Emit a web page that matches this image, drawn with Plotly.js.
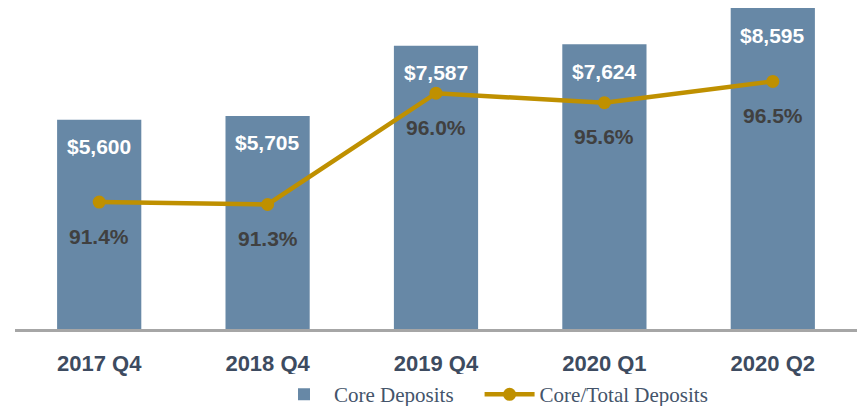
<!DOCTYPE html>
<html><head><meta charset="utf-8">
<script src="https://cdn.plot.ly/plotly-3.0.1.min.js"></script>
<style>html,body{margin:0;padding:0;background:#fff;}#chart{width:857px;height:406px;}</style>
</head><body><div id="chart"></div>
<script>
const categories = ["2017 Q4", "2018 Q4", "2019 Q4", "2020 Q1", "2020 Q2"];
const coreDeposits = [5600, 5705, 7587, 7624, 8595];
const coreRatio = [91.4, 91.3, 96.0, 95.6, 96.5];
const barLabels = ["$5,600", "$5,705", "$7,587", "$7,624", "$8,595"];
const ratioLabels = ["91.4%", "91.3%", "96.0%", "95.6%", "96.5%"];

const barColor = "#6788A6";
const lineColor = "#BF9000";

const traces = [
  {type: "bar", x: categories, y: coreDeposits, name: "Core Deposits&nbsp;&nbsp;&nbsp;&nbsp;",
   marker: {color: barColor}, hoverinfo: "skip"},
  {type: "scatter", mode: "lines+markers", x: categories, y: coreRatio, yaxis: "y2",
   name: "Core/Total Deposits", line: {color: lineColor, width: 4.5},
   marker: {color: lineColor, size: 13}, hoverinfo: "skip"}
];

const annotations = [];
categories.forEach((c, i) => {
  annotations.push({x: c, y: coreDeposits[i], xref: "x", yref: "y", text: barLabels[i],
    showarrow: false, yanchor: "middle", yshift: -27,
    font: {family: "Liberation Sans, Arial", size: 21, color: "#ffffff", weight: 700}});
  annotations.push({x: c, y: coreRatio[i], xref: "x", yref: "y2", text: ratioLabels[i],
    showarrow: false, yanchor: "middle", yshift: -34,
    font: {family: "Liberation Sans, Arial", size: 21, color: "#404040", weight: 700}});
});

const layout = {
  width: 857, height: 406,
  margin: {l: 15, r: 0, t: 8, b: 77, autoexpand: false},
  paper_bgcolor: "#fff", plot_bgcolor: "#fff",
  bargap: 0.5,
  showlegend: true,
  legend: {orientation: "h", x: 274 / 857, xanchor: "left", xref: "container",
    y: 0.028, yref: "container", yanchor: "middle",
    font: {family: "Liberation Serif, Times New Roman", size: 21, color: "#44546A"},
    itemwidth: 50, traceorder: "normal"},
  xaxis: {type: "category", showline: true, linecolor: "#A6A6A6", linewidth: 3,
    ticks: "", ticklabelstandoff: 13, showgrid: false, automargin: false,
    tickfont: {family: "Liberation Sans, Arial", size: 22, color: "#3D4B60", weight: 700}},
  yaxis: {range: [0, 8595], visible: false, showgrid: false, zeroline: false, automargin: false},
  yaxis2: {range: [86.04, 99.6], overlaying: "y", side: "right", visible: false,
    showgrid: false, zeroline: false, automargin: false},
  annotations: annotations
};

Plotly.newPlot("chart", traces, layout, {displayModeBar: false, staticPlot: true});
</script></body></html>
